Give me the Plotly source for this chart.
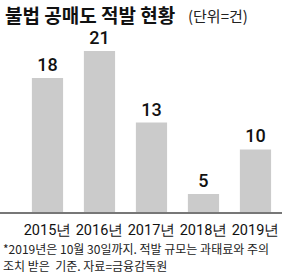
import plotly.graph_objects as go

years = ["2015년", "2016년", "2017년", "2018년", "2019년"]
counts = [18, 21, 13, 5, 10]

title_text = "불법 공매도 적발 현황"
unit_text = "(단위=건)"
note_lines = ["*2019년은 10월 30일까지. 적발 규모는 과태료와 주의",
              "조치 받은  기준. 자료=금융감독원"]

NUMFONT = "Roboto, Liberation Sans, sans-serif"
KFONT = "Noto Sans CJK KR, sans-serif"

fig = go.Figure(go.Bar(
    x=years, y=counts,
    marker=dict(color="#cbcbcb", line=dict(width=0)),
    width=0.6,
    text=[str(c) for c in counts],
    textposition="outside",
    textfont=dict(family=NUMFONT, size=18, color="#111111", weight=500),
    cliponaxis=False,
))

fig.update_layout(
    width=300, height=274,
    margin=dict(l=0, r=18, t=30, b=62),
    paper_bgcolor="white", plot_bgcolor="white",
    showlegend=False,
    bargap=0.4,
    xaxis=dict(
        type="category", range=[-0.913, 4.51],
        showline=True, linecolor="#777777", linewidth=1.5,
        showgrid=False, ticks="", tickangle=0,
        tickfont=dict(family=NUMFONT, size=14.5, color="#111111"),
        ticklabelstandoff=4,
    ),
    yaxis=dict(range=[3, 23.36], visible=False),
    annotations=[
        dict(text=title_text, x=3, y=14, showarrow=False,
             xanchor="left", yanchor="middle",
             font=dict(family=KFONT, size=19, color="#111111", weight="bold")),
        dict(text=unit_text, x=186, y=15, showarrow=False,
             xanchor="left", yanchor="middle",
             font=dict(family=KFONT, size=15, color="#222222")),
        dict(text=note_lines[0], x=1, y=248, showarrow=False,
             xanchor="left", yanchor="middle",
             font=dict(family=KFONT, size=12, color="#222222")),
        dict(text=note_lines[1], x=1, y=265.5, showarrow=False,
             xanchor="left", yanchor="middle",
             font=dict(family=KFONT, size=12, color="#222222")),
    ],
)

pw = 300 - 0 - 18
ph = 274 - 30 - 62
for a in fig.layout.annotations:
    a.xref = "paper"
    a.yref = "paper"
    a.x = a.x / pw
    a.y = (274 - 62 - a.y) / ph

fig.write_html("out.html")
